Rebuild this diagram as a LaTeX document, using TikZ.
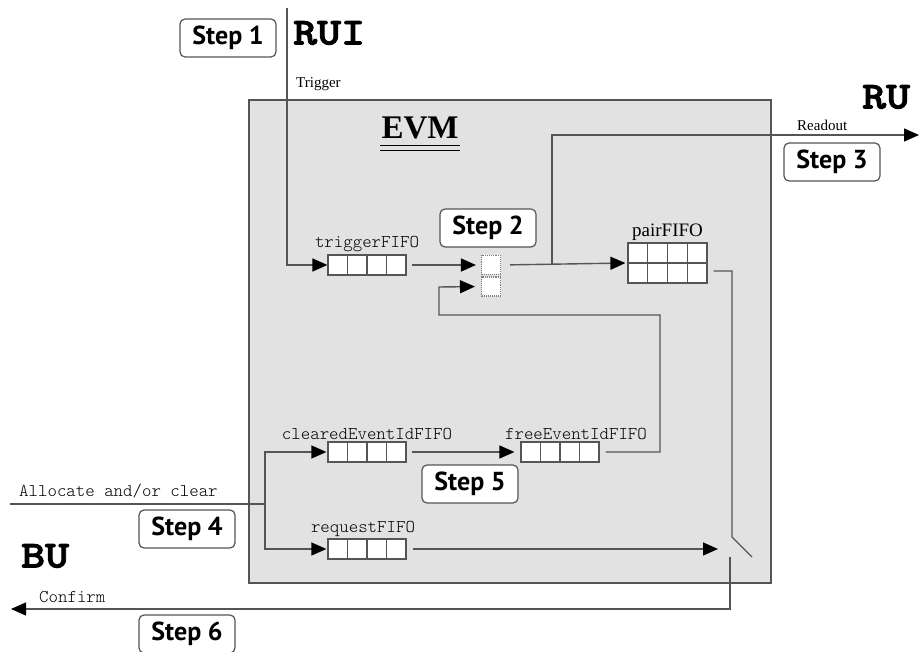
\documentclass[tikz,border=0pt]{standalone}
\usepackage{fontspec}
\setmainfont{Liberation Serif}
\newfontfamily\stepfont{PT Sans}
\newfontfamily\bigmono{lmmonolt10-bold}[Extension=.otf,FakeBold=2.5,FakeStretch=1.2]
\newfontfamily\smallmono{lmmonolt10-regular}[Extension=.otf]
\usetikzlibrary{arrows.meta,calc,positioning}
\definecolor{boxgray}{HTML}{E2E2E2}
\definecolor{linegray}{HTML}{555555}
\tikzset{
  wire/.style={draw=linegray,line width=1.4pt},
  flow/.style={wire,-{Triangle[length=15pt,width=13pt,color=black]}},
  fifo/.style={draw=linegray,line width=1.2pt,fill=white,minimum width=78pt,minimum height=20pt,inner sep=0pt},
  slot/.style={draw=gray,densely dotted,line width=1.1pt,fill=white,minimum width=19pt,minimum height=19pt,inner sep=0pt},
  stepbox/.style={draw=linegray,line width=1.2pt,fill=white,rounded corners=5pt,minimum width=96pt,minimum height=38pt,font=\stepfont\bfseries\fontsize{26}{28}\selectfont},
  monolbl/.style={font=\smallmono\fontsize{18}{20}\selectfont,inner sep=1pt},
  serlbl/.style={font=\fontsize{15}{17}\selectfont,inner sep=1pt},
  biglbl/.style={font=\bigmono\fontsize{38}{40}\selectfont,inner sep=0pt}
}
\begin{document}
\begin{tikzpicture}[x=1pt,y=-1pt]
  \useasboundingbox (0,0) rectangle (919,652);
  \fill[boxgray,draw=linegray,line width=1.4pt] (249,100) rectangle (771,583);

  \node[font=\bfseries\fontsize{33}{36}\selectfont,inner sep=0pt] (evm) at (420,128) {EVM};
  \draw[black,line width=1.3pt] ($(evm.base west)+(-1,7)$) -- ($(evm.base east)+(1,7)$)
    ($(evm.base west)+(-1,12)$) -- ($(evm.base east)+(1,12)$);

  \node[biglbl,anchor=west] (rui) at (293,33) {RUI};
  \node[biglbl,anchor=west] (ru) at (862,97) {RU};
  \node[biglbl,anchor=west] (bu) at (21,556) {BU};

  \node[fifo] (trig) at (367,265) {};
  \node[fifo] (cleared) at (367,452) {};
  \node[fifo] (free) at (560,452) {};
  \node[fifo] (request) at (367,549) {};
  \node[fifo,minimum width=79pt,minimum height=40pt] (pair) at (667.5,263) {};
  \foreach \f in {trig,cleared,free,request,pair} {
    \foreach \k in {1,2,3} {
      \draw[linegray,line width=1.2pt] ($(\f.north west)!\k/4!(\f.north east)$) -- ($(\f.south west)!\k/4!(\f.south east)$);
    }
  }
  \draw[linegray,line width=1.2pt] (pair.west) -- (pair.east);

  \node[monolbl,above=1pt of trig] {triggerFIFO};
  \node[monolbl,above=1pt of cleared] {clearedEventIdFIFO};
  \node[monolbl,above=1pt of free,xshift=16pt] {freeEventIdFIFO};
  \node[monolbl,above=1pt of request,xshift=-4pt] {requestFIFO};
  \node[font=\fontsize{19}{21}\selectfont,inner sep=1pt,above=1pt of pair] {pairFIFO};

  \node[slot] (muxa) at (491,265) {};
  \node[slot] (muxb) at (491,286.5) {};

  \node[stepbox] (s1) at (228,38) {Step 1};
  \node[stepbox] (s2) at (488,228) {Step 2};
  \node[stepbox] (s3) at (832,162) {Step 3};
  \node[stepbox] (s4) at (187,529) {Step 4};
  \node[stepbox] (s5) at (470,484) {Step 5};
  \node[stepbox] (s6) at (187,634) {Step 6};

  \coordinate (ruiIn) at (287,8);
  \coordinate (branch) at (552,265);
  \coordinate (ruOut) at (919,135);
  \coordinate (swTop) at (732,537);
  \coordinate (swEnd) at (752,557);
  \coordinate (swIn) at (718,549);
  \coordinate (swLow) at (730,557);
  \coordinate (buOut) at (11,609);
  \coordinate (buIn) at (10,504);
  \coordinate (junc) at (265,504);
  \coordinate (loopTop) at (660,315);
  \coordinate (loopLeft) at (439,287);

  \draw[flow] (ruiIn) |- (trig.west);
  \draw[flow,shorten <=5pt,shorten >=5pt] (trig.east) -- (muxa.west);
  \draw[flow,shorten <=9pt,shorten >=2pt] (muxa.east) -- (pair.west);
  \draw[flow] (branch) |- (ruOut);
  \draw[wire,shorten <=6pt] ([yshift=-8pt]pair.east) -| (swTop) -- (swEnd);
  \draw[flow,shorten <=6pt] (request.east) -- (swIn);
  \draw[flow] (swLow) |- (buOut);
  \draw[flow,shorten <=5pt,shorten >=6pt] (cleared.east) -- (free.west);
  \draw[flow,shorten <=6pt,shorten >=6pt] (free.east) -| (loopTop) -| (loopLeft) -- (muxb.west);
  \draw[wire] (buIn) -- (junc);
  \draw[flow,shorten >=1pt] (junc) |- (cleared.west);
  \draw[flow,shorten >=1pt] (junc) |- (request.west);

  \node[serlbl,anchor=west] at (295,84) {Trigger};
  \node[serlbl,anchor=west] at (796,125) {Readout};
  \node[monolbl,anchor=west] at (18,491) {Allocate and/or clear};
  \node[monolbl,anchor=west] at (38,597) {Confirm};
\end{tikzpicture}
\end{document}
